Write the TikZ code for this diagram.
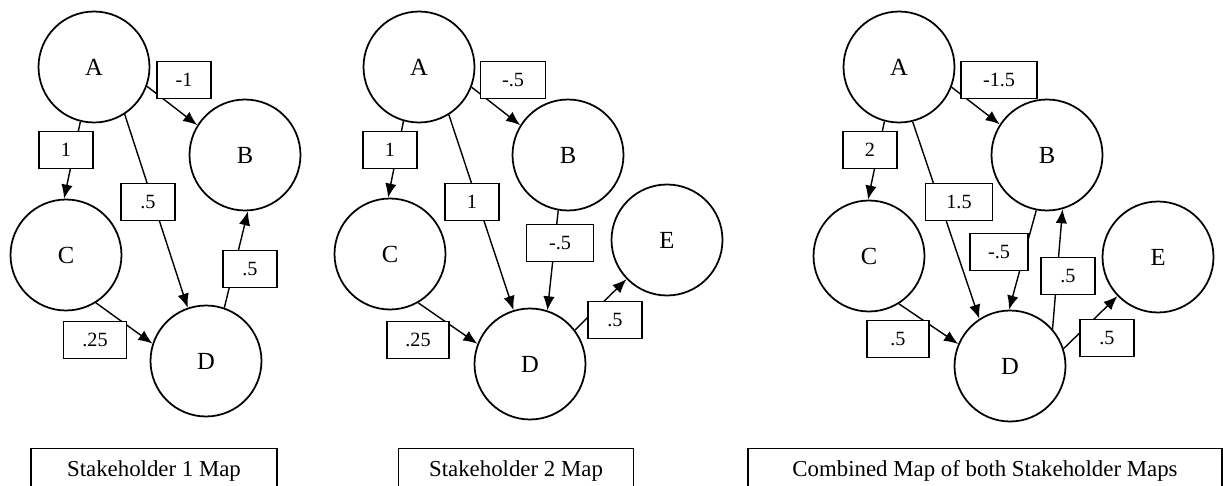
\documentclass[tikz,border=0pt]{standalone}
\usepackage{fontspec}
\setmainfont{Liberation Serif}
\usetikzlibrary{arrows.meta}

\begin{document}
\begin{tikzpicture}[x=0.02cm,y=-0.02cm,
	concept/.style={draw, circle, line width=1pt, minimum size=2.22cm, inner sep=0pt, font=\fontsize{14}{16}\selectfont},
	weight/.style={draw, fill=white, line width=0.8pt, minimum height=0.75cm, minimum width=1.08cm, inner sep=0pt, font=\fontsize{11.5}{13}\selectfont},
	maptitle/.style={draw, line width=0.8pt, minimum height=0.9cm, inner sep=0pt, font=\fontsize{13}{15}\selectfont},
	link/.style={line width=0.8pt, -{Latex[length=8pt,width=6.5pt]}}]
	
	\useasboundingbox (0,0) rectangle (1223,486);
	
	% Stakeholder 1
	\node[concept] (A1) at (94,67) {A};
	\node[concept] (B1) at (245,155) {B};
	\node[concept] (C1) at (66,255) {C};
	\node[concept] (D1) at (206,361) {D};
	\draw[link] (A1.-20) -- (B1.148);
	\draw[link] (A1.-104) -- (C1.92);
	\draw[link] (A1.-57) -- (D1.109);
	\draw[link] (D1.71) -- (B1.-87);
	\draw[link] (C1.-58) -- (D1.162);
	\node[weight] (ab1) at (184,80) {-1};
	\node[weight] (ac1) at (66,150) {1};
	\node[weight] (ad1) at (148,202) {.5};
	\node[weight] (db1) at (250,269) {.5};
	\node[weight, minimum width=1.26cm] (cd1) at (95,340) {.25};
	\node[maptitle, minimum width=4.92cm] (map1) at (154,471) {Stakeholder 1 Map};
	
	% Stakeholder 2
	\node[concept] (A2) at (419,67) {A};
	\node[concept] (B2) at (568,155) {B};
	\node[concept] (C2) at (390,254) {C};
	\node[concept] (D2) at (530,364) {D};
	\node[concept] (E2) at (667,240) {E};
	\draw[link] (A2.-21) -- (B2.148);
	\draw[link] (A2.-106) -- (C2.92);
	\draw[link] (A2.-58) -- (D2.107);
	\draw[link] (B2.-100) -- (D2.72);
	\draw[link] (D2.37) -- (E2.-136);
	\draw[link] (C2.-60) -- (D2.159);
	\node[weight, minimum width=1.3cm] (ab2) at (513,80) {-.5};
	\node[weight] (ac2) at (390,150) {1};
	\node[weight] (ad2) at (472,202) {1};
	\node[weight, minimum width=1.34cm] (bd2) at (560,243) {-.5};
	\node[weight] (de2) at (615,320) {.5};
	\node[weight, minimum width=1.24cm] (cd2) at (418,340) {.25};
	\node[maptitle, minimum width=4.7cm] (map2) at (516,471) {Stakeholder 2 Map};
	
	% Combined
	\node[concept] (A3) at (899,67) {A};
	\node[concept] (B3) at (1047,155) {B};
	\node[concept] (C3) at (869,256) {C};
	\node[concept] (D3) at (1010,366) {D};
	\node[concept] (E3) at (1158,257) {E};
	\draw[link] (A3.-21) -- (B3.147);
	\draw[link] (A3.-105) -- (C3.91);
	\draw[link] (A3.-76) -- (D3.123);
	\draw[link] (B3.-101) -- (D3.91);
	\draw[link] (D3.41) -- (B3.-74);
	\draw[link] (D3.18) -- (E3.-136);
	\draw[link] (C3.-58) -- (D3.157);
	\node[weight, minimum width=1.52cm] (ab3) at (999,80) {-1.5};
	\node[weight] (ac3) at (870,150) {2};
	\node[weight, minimum width=1.34cm] (ad3) at (959,202) {1.5};
	\node[weight, minimum width=1.16cm] (bd3) at (999,252) {-.5};
	\node[weight] (db3) at (1068,276) {.5};
	\node[weight] (de3) at (1107,338) {.5};
	\node[weight, minimum width=1.24cm] (cd3) at (898,339) {.5};
	\node[maptitle, minimum width=9.48cm] (map3) at (985,471) {Combined Map of both Stakeholder Maps};
	
\end{tikzpicture}
\end{document}
